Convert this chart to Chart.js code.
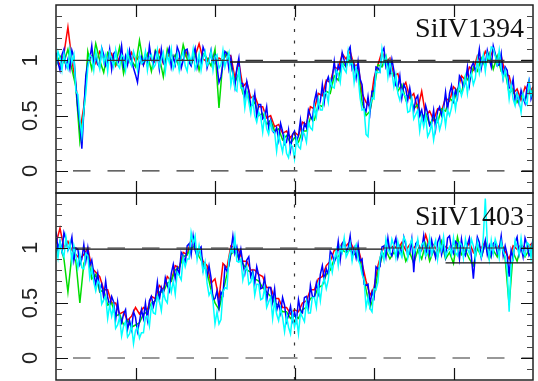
<!DOCTYPE html>
<html>
<head>
<meta charset="utf-8">
<script src="https://cdn.jsdelivr.net/npm/chart.js@4.4.0/dist/chart.umd.min.js"></script>
<style>
  html, body { margin: 0; padding: 0; background: #fff; }
  #wrap { position: relative; width: 538px; height: 381px; overflow: hidden; }
  #wrap canvas { position: absolute; left: 0; }
  #top { top: 0; }
  #bot { top: 190px; }
</style>
</head>
<body>
<div id="wrap">
  <canvas id="top" width="538" height="196"></canvas>
  <canvas id="bot" width="538" height="191"></canvas>
</div>
<script>
// every spectrum is sampled evenly from velMin to velMax
const velMin = -3;
const velMax = 3;

const yTickValues = [0, 0.5, 1];
const yTickLabels = ['0', '0.5', '1'];
const xTickValues = [-2, -1, 0, 1, 2];

// normalised flux, SiIV 1394 (red/green: 121 bins, blue/cyan: 241 bins)
const si1394Red = [
  1.02, 0.96, 1.06, 1.30, 1.00, 0.78, 0.36, 0.58, 1.00, 1.04, 0.97,
  1.08, 1.02, 0.99, 1.06, 0.95, 1.03, 1.01, 0.97, 1.07, 0.99, 1.04,
  0.96, 1.05, 1.00, 0.98, 1.09, 0.97, 1.03, 1.06, 0.98, 1.02, 1.00,
  1.08, 0.97, 1.04, 1.15, 1.01, 0.99, 1.05, 0.97, 1.02, 1.00, 1.06,
  1.04, 0.84, 0.98, 0.76, 0.80, 0.66, 0.68, 0.58, 0.58, 0.48, 0.50,
  0.40, 0.42, 0.34, 0.36, 0.30, 0.35, 0.32, 0.44, 0.42, 0.58, 0.56,
  0.70, 0.68, 0.82, 0.80, 0.94, 0.92, 1.06, 1.01, 1.08, 0.95, 0.96,
  0.70, 0.62, 0.58, 0.84, 0.96, 1.08, 0.98, 1.02, 0.86, 0.88, 0.74,
  0.80, 0.66, 0.70, 0.56, 0.72, 0.50, 0.54, 0.46, 0.56, 0.54, 0.66,
  0.63, 0.76, 0.72, 0.86, 0.82, 0.94, 0.91, 1.04, 0.98, 1.08, 1.01,
  1.10, 1.00, 1.04, 0.88, 0.86, 0.70, 0.74, 0.64, 0.76, 0.70, 0.76
];
const si1394Green = [
  0.95, 1.04, 0.98, 1.10, 0.92, 0.76, 0.27, 0.52, 1.08, 0.92, 1.15,
  1.00, 0.89, 1.07, 1.02, 0.96, 1.12, 0.88, 1.05, 1.00, 0.94, 1.18,
  0.97, 1.06, 0.90, 1.09, 1.03, 0.85, 1.10, 0.99, 1.05, 0.93, 1.14,
  1.01, 0.96, 1.08, 0.91, 1.06, 1.02, 0.95, 1.10, 0.57, 1.00, 1.07,
  0.96, 0.80, 0.88, 0.70, 0.72, 0.58, 0.62, 0.50, 0.52, 0.42, 0.46,
  0.36, 0.38, 0.28, 0.32, 0.25, 0.30, 0.26, 0.36, 0.36, 0.48, 0.46,
  0.60, 0.58, 0.72, 0.70, 0.86, 0.82, 0.98, 0.94, 1.04, 0.92, 0.90,
  0.62, 0.50, 0.54, 0.74, 0.96, 0.94, 1.04, 0.88, 0.88, 0.72, 0.78,
  0.64, 0.70, 0.56, 0.60, 0.48, 0.52, 0.42, 0.48, 0.44, 0.56, 0.54,
  0.66, 0.62, 0.74, 0.70, 0.86, 0.80, 0.94, 0.90, 1.02, 0.94, 1.06,
  0.92, 1.04, 0.90, 0.90, 0.70, 0.74, 0.62, 0.68, 0.64, 0.74, 0.70
];
const si1394Blue = [
  1.07, 0.98, 0.91, 1.05, 1.10, 0.94, 1.01, 0.92, 1.09, 1.03, 0.78, 0.56, 0.43, 0.20, 0.54, 0.86, 0.97, 1.01, 1.13, 0.95, 1.04, 0.96,
  0.94, 1.11, 1.05, 0.95, 0.98, 1.10, 0.92, 1.06, 1.08, 0.97, 1.01, 1.13, 0.95, 1.04, 0.96, 1.09, 1.00, 0.93, 0.87, 0.80, 0.96, 1.03,
  0.96, 1.04, 0.95, 1.13, 1.01, 0.97, 1.08, 1.06, 0.92, 1.10, 0.98, 0.95, 1.05, 1.11, 0.94, 1.03, 0.96, 1.12, 1.07, 0.93, 1.00, 1.09,
  1.10, 0.98, 0.95, 1.05, 1.11, 0.94, 1.03, 0.96, 1.12, 1.07, 0.93, 1.00, 1.09, 0.96, 1.04, 0.95, 0.80, 0.85, 0.97, 1.08, 1.06, 0.92,
  1.02, 0.88, 0.76, 0.93, 1.02, 0.79, 0.79, 0.67, 0.81, 0.72, 0.59, 0.60, 0.70, 0.49, 0.60, 0.60, 0.47, 0.49, 0.58, 0.39, 0.46, 0.36,
  0.34, 0.39, 0.28, 0.43, 0.36, 0.24, 0.26, 0.37, 0.19, 0.33, 0.36, 0.26, 0.32, 0.46, 0.31, 0.43, 0.39, 0.55, 0.50, 0.46, 0.63, 0.71,
  0.57, 0.63, 0.78, 0.63, 0.80, 0.85, 0.77, 0.84, 0.99, 0.84, 0.96, 0.91, 1.07, 1.00, 0.94, 1.08, 1.12, 0.92, 0.96, 0.84, 0.99, 0.83,
  0.78, 0.57, 0.54, 0.67, 0.53, 0.72, 0.72, 0.94, 0.93, 0.90, 1.07, 1.11, 0.94, 0.99, 0.88, 1.01, 0.91, 0.77, 0.76, 0.86, 0.66, 0.78,
  0.74, 0.64, 0.75, 0.64, 0.54, 0.65, 0.68, 0.50, 0.55, 0.44, 0.59, 0.52, 0.41, 0.43, 0.55, 0.38, 0.54, 0.58, 0.50, 0.56, 0.71, 0.55,
  0.70, 0.77, 0.64, 0.73, 0.66, 0.86, 0.83, 0.75, 0.80, 0.94, 0.78, 0.94, 0.98, 0.90, 0.97, 1.10, 0.93, 1.03, 0.96, 1.09, 1.01, 0.94,
  1.13, 1.06, 0.95, 0.96, 1.06, 0.84, 0.94, 0.91, 0.75, 0.75, 0.83, 0.63, 0.70, 0.61, 0.73, 0.66, 0.61, 0.76, 0.82, 0.65, 0.71
];
const si1394Cyan = [
  0.95, 1.08, 1.02, 0.91, 1.06, 0.97, 0.92, 1.10, 0.98, 1.05, 0.72, 0.69, 0.46, 0.32, 0.55, 0.70, 0.93, 1.05, 1.03, 0.91, 1.08, 0.99,
  0.92, 1.10, 0.98, 1.05, 0.90, 1.07, 1.01, 0.94, 1.09, 0.96, 0.93, 1.05, 1.03, 0.91, 1.08, 0.99, 0.95, 1.08, 1.02, 0.91, 1.06, 0.97,
  0.99, 1.08, 0.91, 1.03, 1.05, 0.93, 0.96, 1.09, 0.94, 1.01, 1.07, 0.90, 1.05, 0.98, 1.10, 0.92, 0.97, 1.06, 0.91, 1.02, 1.08, 0.95,
  0.90, 1.05, 0.98, 1.10, 0.92, 0.97, 1.06, 0.91, 1.02, 1.08, 0.95, 0.99, 1.08, 0.91, 1.03, 1.05, 0.93, 0.96, 1.09, 0.94, 1.01, 1.07,
  0.78, 0.88, 0.74, 0.72, 0.94, 0.75, 0.75, 0.57, 0.71, 0.62, 0.52, 0.65, 0.50, 0.44, 0.53, 0.49, 0.35, 0.50, 0.38, 0.33, 0.44, 0.36,
  0.35, 0.18, 0.33, 0.25, 0.17, 0.30, 0.16, 0.12, 0.24, 0.22, 0.11, 0.29, 0.22, 0.20, 0.36, 0.33, 0.26, 0.44, 0.39, 0.37, 0.58, 0.49,
  0.65, 0.55, 0.55, 0.70, 0.71, 0.62, 0.82, 0.76, 0.75, 0.91, 0.88, 0.80, 0.98, 0.92, 0.89, 1.08, 0.96, 0.99, 0.80, 0.93, 0.85, 0.66,
  0.55, 0.56, 0.33, 0.31, 0.58, 0.66, 0.65, 0.90, 0.89, 0.89, 1.10, 0.97, 1.03, 0.85, 0.99, 0.89, 0.76, 0.87, 0.70, 0.64, 0.73, 0.69,
  0.67, 0.53, 0.54, 0.65, 0.47, 0.51, 0.55, 0.36, 0.49, 0.40, 0.50, 0.31, 0.35, 0.43, 0.28, 0.40, 0.48, 0.37, 0.44, 0.55, 0.41, 0.55,
  0.50, 0.57, 0.69, 0.56, 0.69, 0.78, 0.68, 0.74, 0.85, 0.70, 0.84, 0.88, 0.78, 0.84, 1.01, 0.88, 0.97, 1.05, 0.90, 1.06, 1.00, 1.12,
  1.11, 1.04, 0.96, 1.09, 0.92, 0.83, 0.91, 0.83, 0.65, 0.78, 0.65, 0.59, 0.70, 0.64, 0.53, 0.70, 0.63, 0.60, 0.80, 0.68, 0.75
];

// normalised flux, SiIV 1403
const si1403Red = [
  1.04, 1.18, 1.00, 1.06, 0.98, 0.94, 0.90, 0.94, 1.00, 0.82, 0.78,
  0.74, 0.62, 0.62, 0.50, 0.50, 0.40, 0.42, 0.34, 0.38, 0.46, 0.40,
  0.46, 0.44, 0.56, 0.54, 0.66, 0.62, 0.74, 0.70, 0.84, 0.82, 0.96,
  0.94, 1.08, 1.00, 0.98, 0.88, 0.84, 0.68, 0.72, 0.54, 0.86, 0.82,
  1.02, 1.00, 0.98, 0.88, 0.88, 0.80, 0.80, 0.76, 0.74, 0.64, 0.64,
  0.54, 0.54, 0.46, 0.46, 0.40, 0.44, 0.42, 0.50, 0.52, 0.62, 0.62,
  0.72, 0.74, 0.84, 0.88, 0.98, 0.98, 1.04, 1.02, 1.06, 0.98, 1.00,
  0.86, 0.70, 0.57, 0.64, 0.84, 0.97, 1.04, 1.00, 1.02, 0.99, 1.05,
  0.98, 1.03, 1.00, 1.04, 0.98, 1.12, 1.00, 1.03, 0.97, 1.05, 1.01,
  0.99, 1.04, 1.00, 1.02, 0.98, 1.05, 0.96, 1.03, 1.00, 1.06, 0.98,
  1.02, 1.00, 1.04, 0.97, 0.90, 1.02, 0.99, 1.03, 1.00, 1.02, 1.05
];
const si1403Green = [
  0.96, 1.04, 0.90, 0.60, 0.94, 0.88, 0.50, 0.86, 0.94, 0.72, 0.76,
  0.60, 0.62, 0.48, 0.50, 0.38, 0.40, 0.30, 0.34, 0.28, 0.30, 0.32,
  0.40, 0.42, 0.50, 0.52, 0.60, 0.60, 0.68, 0.70, 0.80, 0.82, 0.92,
  0.94, 1.00, 1.02, 0.92, 0.86, 0.78, 0.62, 0.50, 0.44, 0.60, 0.76,
  0.94, 0.98, 0.90, 0.86, 0.80, 0.78, 0.72, 0.70, 0.64, 0.60, 0.56,
  0.50, 0.48, 0.42, 0.42, 0.36, 0.38, 0.36, 0.44, 0.46, 0.54, 0.56,
  0.64, 0.66, 0.76, 0.80, 0.90, 0.92, 0.98, 0.96, 0.98, 0.94, 0.96,
  0.80, 0.62, 0.46, 0.56, 0.78, 0.92, 0.98, 0.90, 0.96, 0.92, 1.02,
  0.88, 0.96, 0.86, 0.98, 0.90, 1.04, 0.88, 0.98, 0.92, 1.06, 0.90,
  0.96, 0.86, 1.10, 0.94, 0.98, 0.90, 0.84, 1.00, 0.92, 1.04, 0.90,
  0.98, 0.92, 1.06, 0.90, 0.48, 0.96, 0.88, 1.02, 0.92, 0.98, 1.04
];
const si1403Blue = [
  1.15, 0.99, 1.06, 0.97, 1.14, 1.08, 0.98, 1.01, 1.10, 0.89, 1.00, 0.99, 0.85, 0.90, 1.03, 0.88, 1.00, 0.84, 0.89, 0.77, 0.67, 0.77,
  0.62, 0.67, 0.55, 0.70, 0.55, 0.48, 0.56, 0.51, 0.35, 0.51, 0.37, 0.32, 0.40, 0.44, 0.26, 0.34, 0.26, 0.42, 0.37, 0.24, 0.33, 0.44,
  0.36, 0.50, 0.35, 0.52, 0.56, 0.47, 0.54, 0.69, 0.53, 0.64, 0.58, 0.73, 0.66, 0.61, 0.77, 0.85, 0.72, 0.82, 0.76, 0.96, 0.93, 0.86,
  1.02, 1.04, 0.94, 1.11, 0.98, 0.92, 0.99, 1.01, 0.80, 0.85, 0.74, 0.84, 0.73, 0.53, 0.54, 0.61, 0.46, 0.60, 0.57, 0.83, 0.79, 0.84,
  0.97, 1.11, 0.95, 1.01, 0.90, 0.99, 0.86, 0.77, 0.89, 0.92, 0.74, 0.79, 0.68, 0.83, 0.75, 0.63, 0.64, 0.73, 0.52, 0.64, 0.64, 0.51,
  0.63, 0.43, 0.50, 0.41, 0.55, 0.48, 0.33, 0.39, 0.47, 0.34, 0.42, 0.34, 0.53, 0.43, 0.41, 0.55, 0.56, 0.45, 0.66, 0.56, 0.55, 0.68,
  0.59, 0.76, 0.84, 0.71, 0.81, 0.76, 0.97, 0.94, 0.87, 0.92, 1.06, 0.89, 1.04, 1.07, 0.97, 1.00, 1.11, 0.92, 1.00, 0.91, 1.03, 0.88,
  0.90, 0.67, 0.66, 0.67, 0.49, 0.60, 0.55, 0.83, 0.81, 0.83, 1.01, 1.02, 0.92, 1.09, 0.96, 0.93, 1.03, 1.09, 0.92, 1.01, 0.94, 1.10,
  1.03, 0.93, 0.96, 1.08, 0.78, 1.04, 1.06, 0.95, 0.99, 1.11, 0.93, 1.02, 0.94, 1.07, 0.98, 0.91, 1.05, 1.10, 0.94, 1.01, 0.92, 1.09,
  1.11, 0.99, 0.95, 1.06, 1.04, 0.90, 1.08, 0.96, 0.93, 1.03, 1.09, 0.92, 0.72, 0.94, 1.10, 1.05, 0.91, 0.98, 1.07, 0.94, 1.02, 0.93,
  1.04, 1.06, 0.95, 0.99, 1.11, 0.93, 1.02, 0.94, 0.74, 0.98, 0.91, 1.05, 1.10, 0.94, 1.01, 0.92, 1.09, 1.03, 0.93, 0.96, 1.08
];
const si1403Cyan = [
  1.02, 0.91, 1.06, 0.97, 0.92, 1.10, 0.98, 1.05, 0.88, 1.02, 0.93, 0.82, 0.94, 0.82, 0.81, 0.95, 0.93, 0.73, 0.82, 0.69, 0.61, 0.70,
  0.67, 0.49, 0.53, 0.56, 0.36, 0.48, 0.38, 0.47, 0.27, 0.30, 0.37, 0.20, 0.29, 0.33, 0.19, 0.22, 0.30, 0.13, 0.25, 0.28, 0.18, 0.23,
  0.23, 0.37, 0.38, 0.29, 0.48, 0.41, 0.40, 0.56, 0.52, 0.43, 0.60, 0.53, 0.50, 0.70, 0.60, 0.70, 0.58, 0.78, 0.75, 0.71, 0.91, 0.83,
  0.90, 0.90, 1.14, 1.04, 1.11, 0.90, 1.02, 0.91, 0.78, 0.87, 0.68, 0.57, 0.61, 0.51, 0.31, 0.42, 0.31, 0.35, 0.60, 0.64, 0.63, 0.90,
  0.99, 0.96, 1.10, 0.88, 0.87, 0.90, 0.71, 0.80, 0.83, 0.67, 0.69, 0.76, 0.57, 0.67, 0.67, 0.53, 0.54, 0.64, 0.46, 0.51, 0.55, 0.36,
  0.52, 0.40, 0.34, 0.45, 0.37, 0.24, 0.38, 0.28, 0.22, 0.40, 0.28, 0.36, 0.22, 0.41, 0.37, 0.33, 0.51, 0.41, 0.41, 0.55, 0.55, 0.46,
  0.66, 0.52, 0.67, 0.72, 0.63, 0.71, 0.89, 0.78, 0.89, 0.98, 0.84, 1.01, 0.96, 1.09, 0.92, 0.96, 1.04, 0.88, 0.98, 1.03, 0.89, 0.85,
  0.76, 0.71, 0.46, 0.55, 0.45, 0.42, 0.63, 0.62, 0.69, 0.91, 0.97, 0.89, 1.08, 0.99, 0.95, 1.08, 1.02, 0.91, 1.06, 0.97, 0.92, 1.10,
  1.06, 0.91, 1.02, 1.08, 0.95, 0.99, 1.08, 0.91, 1.03, 1.05, 0.93, 0.96, 1.09, 0.94, 1.01, 1.07, 0.90, 1.05, 0.98, 1.10, 0.92, 0.97,
  1.01, 0.94, 1.09, 0.96, 0.93, 1.05, 1.03, 0.91, 1.08, 0.99, 0.95, 1.08, 1.02, 0.91, 1.06, 0.97, 0.92, 1.10, 1.45, 1.05, 0.90, 1.07,
  0.95, 1.08, 1.02, 0.91, 1.06, 0.97, 0.92, 0.80, 0.42, 0.85, 0.90, 1.07, 1.01, 0.94, 1.09, 0.96, 0.93, 1.05, 1.03, 0.91, 1.08
];

// fitted continuum pieces (null splits segments)
const si1394ContX = [-0.81, 3];
const si1394ContY = [0.985, 0.985];
const si1403ContX = [-2.75, 1.1, 1.5, 1.9, 3];
const si1403ContY = [0.99, 0.99, null, 0.865, 0.865];

const seriesColors = ['#ff0000', '#00dd00', '#0000ff', '#00ffff'];
const seriesWidths = [1.5, 1.5, 1.5, 1.5];

function toPoints(values) {
  const step = (velMax - velMin) / (values.length - 1);
  return values.map((v, i) => ({ x: velMin + i * step, y: v }));
}

const framePlugin = {
  id: 'frame',
  afterDraw(chart, args, opts) {
    const { ctx, chartArea: a, scales: { x, y } } = chart;
    ctx.save();
    ctx.strokeStyle = '#222';
    ctx.lineWidth = 1.5;
    ctx.strokeRect(a.left, a.top, a.right - a.left, a.bottom - a.top);

    // y ticks every 0.1 on both sides, long ones at the labelled values
    ctx.lineWidth = 1.2;
    for (let k = -1; k <= 14; k++) {
      const py = Math.round(y.getPixelForValue(k / 10)) + 0.5;
      const len = k % 5 === 0 ? 12 : 6;
      ctx.strokeStyle = k % 5 === 0 ? '#111' : '#444';
      ctx.beginPath();
      ctx.moveTo(a.left, py); ctx.lineTo(a.left + len, py);
      ctx.moveTo(a.right, py); ctx.lineTo(a.right - len, py);
      ctx.stroke();
    }
    ctx.strokeStyle = '#111';
    xTickValues.forEach(v => {
      const px = Math.round(x.getPixelForValue(v)) + 0.5;
      ctx.beginPath();
      ctx.moveTo(px, a.top); ctx.lineTo(px, a.top + 12);
      ctx.moveTo(px, a.bottom); ctx.lineTo(px, a.bottom - 12);
      ctx.stroke();
    });

    ctx.fillStyle = '#222';
    ctx.font = '22px "Liberation Sans", Arial, sans-serif';
    ctx.textAlign = 'center';
    ctx.textBaseline = 'alphabetic';
    yTickValues.forEach((v, i) => {
      ctx.save();
      ctx.translate(a.left - 19, y.getPixelForValue(v));
      ctx.rotate(-Math.PI / 2);
      ctx.fillText(yTickLabels[i], 0, 0);
      ctx.restore();
    });

    ctx.font = '28px "Liberation Serif", "Times New Roman", serif';
    ctx.textAlign = 'right';
    ctx.fillStyle = '#111';
    ctx.fillText(opts.label, a.right - 9, a.top + 32);
    ctx.restore();
  }
};

function refLine(points, dash, offset) {
  return {
    data: points, borderColor: '#333', borderWidth: 1.2,
    borderDash: dash, borderDashOffset: offset, order: 0
  };
}

function makePanel(canvasId, label, series, contX, contY, padding) {
  const datasets = series.map((vals, i) => ({
    data: toPoints(vals),
    borderColor: seriesColors[i],
    borderWidth: seriesWidths[i],
    order: 4 - i
  }));
  datasets.push(refLine([{ x: -3, y: 1 }, { x: 3, y: 1 }], [17.5, 17], 17.5));
  datasets.push(refLine([{ x: -3, y: 0 }, { x: 3, y: 0 }], [17.5, 17], 17.5));
  datasets.push(refLine([{ x: 0, y: -0.2 }, { x: 0, y: 1.5 }], [3, 8.5], 0));
  datasets.push({
    data: contX.map((v, i) => ({ x: v, y: contY[i] })),
    borderColor: '#111', borderWidth: 1.4, spanGaps: false, order: 0
  });

  return new Chart(document.getElementById(canvasId), {
    type: 'line',
    data: { datasets },
    options: {
      responsive: false,
      animation: false,
      events: [],
      layout: { padding },
      elements: { point: { radius: 0 }, line: { tension: 0 } },
      scales: {
        x: { type: 'linear', min: velMin, max: velMax, display: false },
        y: { type: 'linear', min: -0.2, max: 1.5, display: false }
      },
      plugins: {
        legend: { display: false },
        tooltip: { enabled: false },
        frame: { label }
      }
    },
    plugins: [framePlugin]
  });
}

makePanel('top', 'SiIV1394',
  [si1394Red, si1394Green, si1394Blue, si1394Cyan],
  si1394ContX, si1394ContY,
  { left: 56, right: 5, top: 5, bottom: 3 });

makePanel('bot', 'SiIV1403',
  [si1403Red, si1403Green, si1403Blue, si1403Cyan],
  si1403ContX, si1403ContY,
  { left: 56, right: 5, top: 3, bottom: 1 });
</script>
</body>
</html>
